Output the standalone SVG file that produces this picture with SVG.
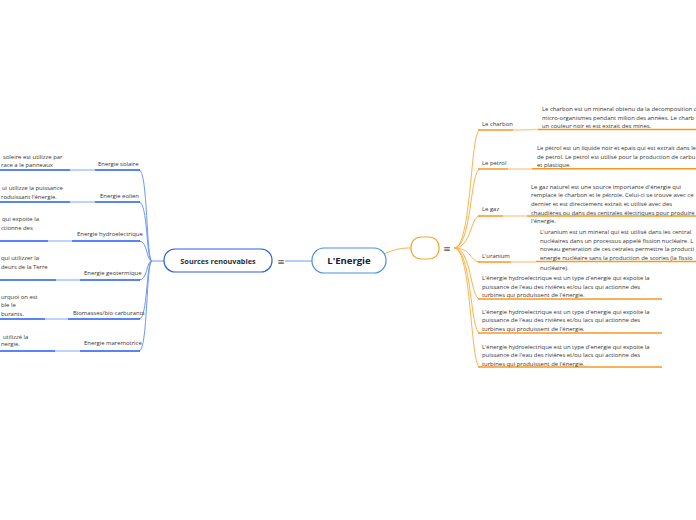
<svg xmlns="http://www.w3.org/2000/svg" width="696" height="520" viewBox="0 0 696 520">
<style>
.t{font-family:"Open Sans","Liberation Sans",sans-serif;font-size:5.9px;fill:#333}
.bl{fill:none;stroke:#1f5cf0;stroke-width:1.5}
.bll{fill:none;stroke:#a9c3fa;stroke-width:1.5}
.bc{fill:none;stroke:#6e98f5;stroke-width:1}
.or{fill:none;stroke:#f7981f;stroke-width:1.5}
.orl{fill:none;stroke:#fbd19a;stroke-width:1.5}
.oc{fill:none;stroke:#f9b44e;stroke-width:1}
.ic{font-family:"DejaVu Sans",sans-serif;font-size:9px;fill:#555}
</style>
<rect width="696" height="520" fill="#fff"/>
<g id="connectors">
<path class="bc" d="M312,261 L285,261"/>
<path class="bc" d="M164,261 L152,261"/>
<path class="bc" d="M152,261 C146,261 148,170 139,170"/>
<path class="bc" d="M152,261 C146,261 148,202 139,202"/>
<path class="bc" d="M152,261 C146,261 148,241 139,241"/>
<path class="bc" d="M152,261 C146,261 148,280 139,280"/>
<path class="bc" d="M152,261 C146,261 148,319 139,319"/>
<path class="bc" d="M152,261 C146,261 148,351 139,351"/>
<path class="oc" d="M384,254 C396,249 400,248 411,248"/>
<path class="oc" d="M454,248 C472,248 470,130 480,130"/>
<path class="oc" d="M454,248 C472,248 470,169 480,169"/>
<path class="oc" d="M454,248 C472,248 470,216 480,216"/>
<path class="oc" d="M454,248 C472,248 470,262 480,262"/>
<path class="oc" d="M454,248 C472,248 470,299 480,299"/>
<path class="oc" d="M454,248 C472,248 470,333 480,333"/>
<path class="oc" d="M454,248 C472,248 470,367 480,367"/>
</g>
<g id="root">
<rect x="312" y="248" width="74" height="25" rx="12" fill="#fff" stroke="#4a94dc" stroke-width="1.2"/>
<text x="349" y="264" text-anchor="middle" font-family="'Open Sans','Liberation Sans',sans-serif" font-size="9.5" font-weight="bold" fill="#13213d">L'Energie</text>
</g>
<g id="sources">
<rect x="164" y="249" width="108" height="23" rx="11" fill="#fff" stroke="#2a62e8" stroke-width="1.2"/>
<text x="218" y="264" text-anchor="middle" font-family="'Open Sans','Liberation Sans',sans-serif" font-size="7.3" font-weight="bold" fill="#1c3346">Sources renouvables</text>
<text class="ic" x="281" y="264.5" text-anchor="middle">≡</text>
</g>
<g id="orange">
<rect x="411" y="237" width="28" height="22" rx="10" fill="#fff" stroke="#f7a530" stroke-width="1.2"/>
<text class="ic" x="447" y="252" text-anchor="middle">≡</text>
</g>
<g id="solaire">
<path class="bl" d="M0,170 H70"/><path class="bll" d="M70,170 H95"/><path class="bl" d="M95,170 H140"/>
<text class="t" x="98" y="166">Energie solaire</text>
<text class="t" x="3" y="159">soleire est utilizze par</text>
<text class="t" x="1" y="167">race a le panneaux</text>
</g>
<g id="eolien">
<path class="bl" d="M0,202 H70"/><path class="bll" d="M70,202 H95"/><path class="bl" d="M95,202 H140"/>
<text class="t" x="100" y="198">Energie eolien</text>
<text class="t" x="2" y="190">ui utilizze la puissance</text>
<text class="t" x="1" y="199">roduissant l'énergie.</text>
</g>
<g id="hydro">
<path class="bl" d="M0,241 H48"/><path class="bll" d="M48,241 H72"/><path class="bl" d="M72,241 H140"/>
<text class="t" x="77" y="236">Energie hydroelectrique</text>
<text class="t" x="2" y="221">qui expoite la</text>
<text class="t" x="1" y="230">ctionne des</text>
</g>
<g id="geo">
<path class="bl" d="M0,280 H56"/><path class="bll" d="M56,280 H80"/><path class="bl" d="M80,280 H140"/>
<text class="t" x="84" y="275">Energie geotermique</text>
<text class="t" x="1" y="260">qui utilizzer la</text>
<text class="t" x="1" y="269">deurs de la Terre</text>
</g>
<g id="bio">
<path class="bl" d="M0,319 H45"/><path class="bll" d="M45,319 H68"/><path class="bl" d="M68,319 H140"/>
<text class="t" x="73" y="315">Biomasses/bio carburants</text>
<text class="t" x="1" y="299">urquoi on est</text>
<text class="t" x="1" y="307">ble le</text>
<text class="t" x="1" y="316">burants.</text>
</g>
<g id="mare">
<path class="bl" d="M0,351 H55"/><path class="bll" d="M55,351 H80"/><path class="bl" d="M80,351 H140"/>
<text class="t" x="84" y="345">Energie maremotrice</text>
<text class="t" x="3" y="339">utilizzé la</text>
<text class="t" x="1" y="346">nergie.</text>
</g>
<g id="charbon">
<path class="or" d="M478,130 H513"/><path class="orl" d="M513,130 C525,130 526,129.5 538,129.5"/><path class="or" d="M538,129.5 H696"/>
<text class="t" x="482" y="126">Le charbon</text>
<text class="t" x="542" y="111">Le charbon est un mineral obtenu da la decomposition d</text>
<text class="t" x="542" y="120">micro-organismes  pendant milion des années. Le charb</text>
<text class="t" x="542" y="128">un couleur noir et est extrait des mines.</text>
</g>
<g id="petrol">
<path class="or" d="M478,169 H508"/><path class="orl" d="M508,169 H532"/><path class="or" d="M532,168.7 H696"/>
<text class="t" x="482" y="165">Le petrol</text>
<text class="t" x="537" y="150">Le pètrol est un liquide noir et epais qui est extrait dans le</text>
<text class="t" x="537" y="159">de petrol. Le petrol est utilisé pour la production de carbu</text>
<text class="t" x="537" y="167">et plastique.</text>
</g>
<g id="gaz">
<path class="or" d="M478,216 H503"/><path class="orl" d="M503,216 H527"/><path class="or" d="M527,216 H696"/>
<text class="t" x="482" y="211">Le gaz</text>
<text class="t" x="531" y="189">Le gaz naturel est une source importante d'énergie qui</text>
<text class="t" x="531" y="197">remplace le charbon et le pétrole. Celui-ci se trouve avec ce</text>
<text class="t" x="531" y="206">dernier et est directement extrait et utilisé avec des</text>
<text class="t" x="531" y="214.5">chaudières ou dans des centrales électriques pour produire</text>
<text class="t" x="531" y="223">l'énergie.</text>
</g>
<g id="uranium">
<path class="or" d="M478,262 H511"/><path class="orl" d="M511,262 H536"/><path class="or" d="M536,261.5 H696"/>
<text class="t" x="482" y="258">L'uranium</text>
<text class="t" x="540" y="234">L'uranium est un mineral qui est utilisé dans les central</text>
<text class="t" x="540" y="242.5">nucléaires dans un processus appelé fission nucléaire. L</text>
<text class="t" x="540" y="251">noveau generation de ces cetrales permettre la producti</text>
<text class="t" x="540" y="260">energie nucléaire sans la production de scories (la fissio</text>
<text class="t" x="540" y="269.5">nucléaire).</text>
</g>
<g id="hydro1">
<path class="or" d="M478,299 H662"/>
<text class="t" x="482" y="280">L'énergie hydroelectrique est un type d'energie qui expoite la</text>
<text class="t" x="482" y="288.5">puissance  de l'eau des rivières et/ou lacs qui actionne des</text>
<text class="t" x="482" y="297">turbines qui produissent de l'énergie.</text>
</g>
<g id="hydro2">
<path class="or" d="M478,333 H662"/>
<text class="t" x="482" y="314">L'énergie hydroelectrique est un type d'energie qui expoite la</text>
<text class="t" x="482" y="322">puissance  de l'eau des rivières et/ou lacs qui actionne des</text>
<text class="t" x="482" y="330.5">turbines qui produissent de l'énergie.</text>
</g>
<g id="hydro3">
<path class="or" d="M478,367 H662"/>
<text class="t" x="482" y="349">L'énergie hydroelectrique est un type d'energie qui expoite la</text>
<text class="t" x="482" y="357">puissance  de l'eau des rivières et/ou lacs qui actionne des</text>
<text class="t" x="482" y="365.5">turbines qui produissent de l'énergie.</text>
</g>
</svg>
